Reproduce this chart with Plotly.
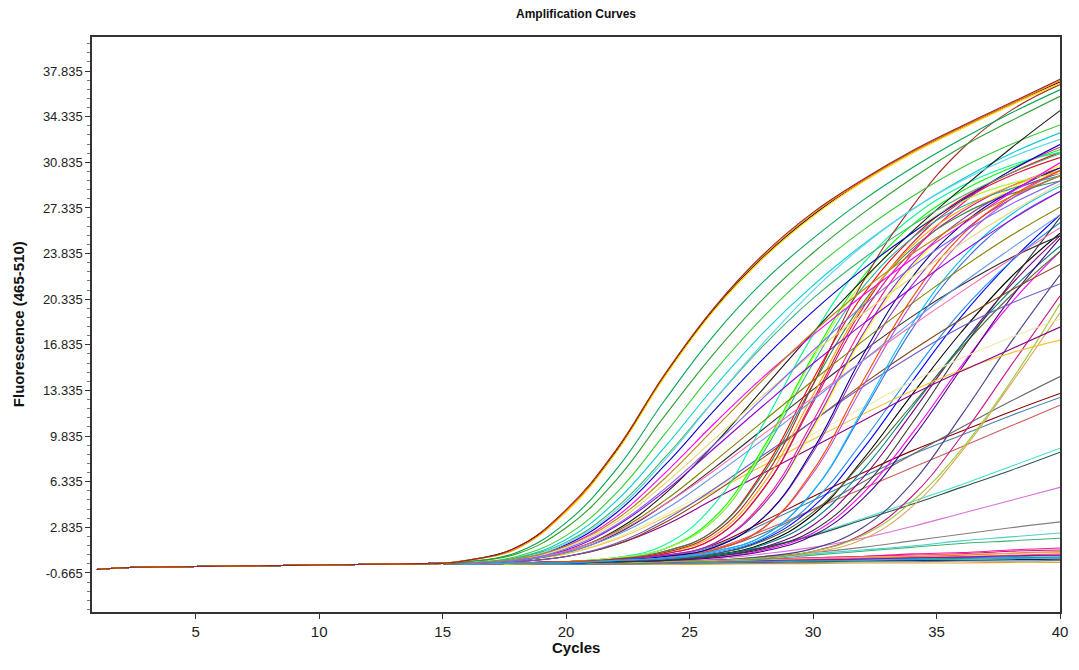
import plotly.graph_objects as go

# ---------------- data ----------------
BASE_CYCLES = list(range(1, 16))
BASELINE = [-0.40, -0.26, -0.22, -0.20, -0.17, -0.15, -0.12, -0.10, -0.08, -0.05, -0.03, 0.0, 0.02, 0.05, 0.07]
SAMPLE_CYCLES = [16, 18, 20, 22, 24, 26, 28, 30, 32, 34, 36, 38, 40]

Y_TICKS = [-0.665, 2.835, 6.335, 9.835, 13.335, 16.835, 20.335, 23.835, 27.335, 30.835, 34.335, 37.835]
X_TICKS = [5, 10, 15, 20, 25, 30, 35, 40]

# early, high plateau
EARLY = [
    [0.2, 0.9, 3.2, 7.2, 12.6, 17.6, 21.7, 25.0, 27.9, 30.4, 32.6, 34.6, 36.4],
    [0.2, 0.8, 2.8, 6.4, 11.4, 16.2, 20.4, 23.9, 26.9, 29.6, 32.0, 34.0, 35.9],
    [0.3, 1.3, 4.1, 8.6, 14.5, 19.6, 23.6, 26.8, 29.4, 31.6, 33.5, 35.3, 37.0],
    [0.3, 1.2, 4.0, 8.5, 14.4, 19.5, 23.5, 26.7, 29.3, 31.5, 33.4, 35.2, 36.9],
    [0.3, 1.2, 4.1, 8.7, 14.6, 19.7, 23.7, 26.9, 29.4, 31.6, 33.5, 35.3, 37.1],
    [0.3, 1.3, 4.2, 8.7, 14.6, 19.7, 23.8, 27.0, 29.5, 31.7, 33.6, 35.4, 37.2],
]
EARLY_COLORS = ["#00A651", "#2E9E2E", "#000000", "#FFD700", "#FF8C00", "#A0202A"]

# second tier
SECOND = [
    [0.1, 0.6, 2.2, 5.4, 10.0, 14.8, 19.0, 22.6, 25.6, 28.2, 30.4, 32.2, 33.7],
    [0.1, 0.5, 1.9, 4.8, 9.0, 13.6, 17.8, 21.4, 24.5, 27.2, 29.5, 31.5, 33.1],
    [0.1, 0.3, 1.0, 2.6, 5.4, 9.2, 13.5, 17.8, 21.8, 25.5, 28.8, 31.9, 34.8],
    [0.1, 0.4, 1.5, 3.9, 7.6, 11.8, 15.8, 19.4, 22.6, 25.4, 27.9, 30.2, 32.2],
    [0.1, 0.4, 1.4, 3.6, 7.0, 10.8, 14.4, 17.6, 20.6, 23.4, 26.0, 28.5, 30.8],
    [0.1, 0.4, 1.3, 3.2, 6.2, 9.6, 13.0, 16.2, 19.2, 22.0, 24.6, 27.0, 29.2],
    [0.1, 0.3, 1.1, 2.9, 5.6, 8.9, 12.2, 15.4, 18.4, 21.2, 23.9, 26.4, 28.6],
    [0.1, 0.3, 1.0, 2.5, 4.9, 7.9, 11.0, 14.1, 17.1, 20.0, 22.7, 25.2, 27.4],
    [0.1, 0.3, 1.0, 2.4, 4.6, 7.2, 10.0, 12.8, 15.6, 18.3, 20.9, 23.4, 25.8],
    [0.1, 0.3, 0.9, 2.2, 4.2, 6.8, 9.6, 12.6, 15.6, 18.6, 21.5, 24.2, 26.8],
    [0.1, 0.5, 1.7, 4.3, 8.2, 12.6, 16.8, 20.4, 23.4, 26.0, 28.2, 30.0, 31.5],
    [0.1, 0.4, 1.6, 4.1, 8.0, 12.6, 17.0, 21.0, 24.4, 27.2, 29.4, 31.2, 32.6],
    [0.1, 0.4, 1.4, 3.4, 6.6, 10.4, 14.2, 17.8, 21.0, 23.8, 26.2, 28.2, 29.8],
    [0.1, 0.3, 1.2, 3.0, 5.8, 9.2, 12.8, 16.4, 19.8, 22.8, 25.4, 27.6, 29.4],
]
SECOND_COLORS = ["#32CD32", "#00CED1", "#1A1A1A", "#0000CD", "#FF00FF", "#E6D870",
                 "#9400D3", "#808000", "#FF69B4", "#6495ED", "#3CB371", "#5FD3F0",
                 "#B8860B", "#7B68EE"]

# slow, nearly linear growth
LINEAR = [
    [0.1, 0.3, 0.8, 2.0, 3.8, 5.8, 7.9, 10.0, 12.0, 14.0, 15.8, 17.4, 18.8],
    [0.1, 0.3, 0.8, 1.9, 3.6, 5.6, 7.6, 9.6, 11.5, 13.3, 14.9, 16.2, 17.2],
    [0.1, 0.3, 0.9, 2.3, 4.6, 7.4, 10.4, 13.4, 16.3, 19.0, 21.4, 23.5, 25.2],
    [0.1, 0.2, 0.6, 1.5, 3.0, 5.0, 7.0, 9.0, 11.0, 13.0, 14.8, 16.5, 18.2],
    [0.1, 0.2, 0.6, 1.5, 3.2, 5.5, 8.2, 11.0, 13.8, 16.4, 18.8, 21.0, 23.0],
    [0.1, 0.2, 0.6, 1.6, 3.4, 5.8, 8.4, 11.0, 13.6, 16.0, 18.2, 20.0, 21.5],
]
LINEAR_COLORS = ["#EEE8AA", "#F4C430", "#2F2F2F", "#8B008B", "#8B4513", "#6A5ACD"]

# dense middle cluster
MIDDLE = [
    [0.0, 0.1, 0.2, 0.4, 1.0, 2.6, 7.2, 14.2, 20.6, 25.0, 28.0, 30.0, 31.6],
    [0.0, 0.1, 0.2, 0.5, 1.2, 3.6, 9.0, 16.0, 22.0, 26.0, 28.6, 30.4, 31.8],
    [0.0, 0.1, 0.2, 0.4, 0.8, 2.0, 5.8, 12.4, 19.2, 24.0, 27.0, 29.0, 30.4],
    [0.0, 0.1, 0.2, 0.4, 0.7, 1.6, 4.6, 10.4, 17.4, 22.8, 26.4, 28.8, 30.6],
    [0.0, 0.1, 0.2, 0.3, 0.6, 1.3, 3.6, 8.6, 15.6, 21.4, 25.4, 28.0, 29.8],
    [0.0, 0.1, 0.2, 0.5, 1.5, 4.6, 10.8, 17.6, 23.0, 26.6, 29.0, 30.6, 31.6],
    [0.0, 0.1, 0.2, 0.4, 0.8, 2.0, 5.8, 12.6, 19.6, 24.6, 27.8, 29.8, 31.2],
    [0.0, 0.1, 0.1, 0.3, 0.5, 1.0, 2.2, 5.6, 11.6, 18.0, 23.0, 26.4, 28.6],
    [0.0, 0.1, 0.2, 0.4, 1.0, 2.6, 7.0, 13.8, 20.0, 24.2, 26.8, 28.4, 29.4],
    [0.0, 0.1, 0.2, 0.4, 0.7, 1.6, 4.8, 11.0, 18.2, 23.8, 27.6, 30.2, 32.0],
    [0.0, 0.1, 0.2, 0.3, 0.5, 1.1, 2.8, 7.0, 13.6, 20.0, 24.8, 28.0, 30.2],
    [0.0, 0.1, 0.2, 0.5, 1.2, 3.4, 8.6, 15.4, 21.2, 25.0, 27.4, 28.8, 29.8],
    [0.0, 0.1, 0.2, 0.4, 0.9, 2.2, 6.2, 13.0, 19.8, 24.4, 27.2, 29.0, 30.2],
    [0.0, 0.1, 0.2, 0.3, 0.6, 1.3, 3.6, 8.8, 16.0, 22.0, 26.0, 28.6, 30.4],
    [0.0, 0.1, 0.2, 0.4, 0.7, 1.6, 4.6, 10.6, 17.6, 23.0, 26.4, 28.6, 30.0],
    [0.0, 0.1, 0.2, 0.5, 1.2, 3.4, 8.8, 15.8, 21.6, 25.4, 27.8, 29.2, 30.0],
    [0.0, 0.1, 0.2, 0.4, 0.9, 2.4, 6.6, 13.8, 21.6, 27.4, 31.8, 34.8, 36.8],
    [0.0, 0.1, 0.2, 0.3, 0.5, 1.1, 2.8, 7.2, 14.0, 20.4, 25.2, 28.2, 30.2],
    [0.0, 0.1, 0.1, 0.3, 0.5, 1.0, 2.2, 5.6, 11.8, 18.4, 23.4, 26.8, 29.0],
]
MIDDLE_COLORS = ["#FF0000", "#00FF00", "#C71585", "#FFFF00", "#9932CC", "#00FA9A",
                 "#DC143C", "#4169E1", "#2E8B57", "#FF1493", "#BA55D3", "#20B2AA",
                 "#FFA500", "#000080", "#8A2BE2", "#ADFF2F", "#A52A2A", "#FF4500", "#00BFFF"]

# later rising
LATE = [
    [0.0, 0.1, 0.1, 0.2, 0.4, 0.7, 1.6, 3.8, 8.0, 13.0, 17.8, 22.0, 25.4],
    [0.0, 0.1, 0.1, 0.2, 0.4, 0.8, 1.9, 4.4, 8.8, 14.0, 19.0, 23.2, 26.8],
    [0.0, 0.1, 0.1, 0.2, 0.3, 0.6, 1.3, 3.0, 6.6, 11.6, 16.8, 21.4, 25.2],
    [0.0, 0.1, 0.1, 0.2, 0.4, 0.7, 1.5, 3.4, 7.2, 12.0, 16.8, 21.0, 24.4],
    [0.0, 0.1, 0.1, 0.2, 0.3, 0.5, 1.1, 2.4, 5.4, 10.0, 15.2, 20.0, 24.0],
    [0.0, 0.1, 0.1, 0.2, 0.4, 0.8, 1.8, 4.0, 7.8, 12.2, 16.6, 20.6, 24.0],
    [0.0, 0.1, 0.1, 0.2, 0.3, 0.5, 1.0, 2.2, 5.0, 9.6, 15.0, 20.4, 25.0],
    [0.0, 0.1, 0.1, 0.2, 0.4, 0.9, 2.0, 4.8, 9.4, 14.6, 19.4, 23.2, 26.2],
    [0.0, 0.1, 0.1, 0.2, 0.3, 0.6, 1.2, 2.6, 5.8, 10.8, 16.4, 21.6, 26.6],
]
LATE_COLORS = ["#000000", "#0000FF", "#800080", "#008080", "#FF00FF", "#556B2F",
               "#4B0082", "#1E90FF", "#333333"]

# latest rising
LATEST = [
    [0.0, 0.0, 0.1, 0.1, 0.2, 0.3, 0.5, 0.9, 1.9, 4.4, 8.6, 13.8, 19.3],
    [0.0, 0.0, 0.1, 0.1, 0.2, 0.3, 0.5, 1.0, 2.3, 5.2, 9.8, 15.2, 20.6],
    [0.0, 0.0, 0.1, 0.1, 0.2, 0.3, 0.6, 1.2, 2.8, 6.2, 11.4, 17.0, 22.2],
    [0.0, 0.0, 0.1, 0.1, 0.2, 0.3, 0.5, 1.0, 2.2, 4.8, 8.8, 14.0, 20.0],
]
LATEST_COLORS = ["#E0A060", "#C71585", "#483D8B", "#9ACD32"]

# weak, slow growth
WEAK = [
    [0.0, 0.1, 0.2, 0.3, 0.6, 1.5, 3.3, 5.2, 7.0, 8.7, 10.2, 11.7, 13.1],
    [0.0, 0.1, 0.2, 0.3, 0.6, 1.4, 3.1, 4.9, 6.7, 8.4, 9.9, 11.4, 12.8],
    [0.0, 0.1, 0.2, 0.3, 0.5, 1.1, 2.4, 4.2, 6.3, 8.4, 10.5, 12.5, 14.4],
    [0.0, 0.1, 0.2, 0.3, 0.5, 1.2, 2.6, 4.2, 5.8, 7.4, 9.0, 10.6, 12.2],
    [0.0, 0.1, 0.1, 0.2, 0.4, 0.7, 1.3, 2.3, 3.5, 4.8, 6.1, 7.5, 8.9],
    [0.0, 0.1, 0.1, 0.2, 0.4, 0.7, 1.3, 2.2, 3.4, 4.6, 5.9, 7.2, 8.6],
    [0.0, 0.0, 0.1, 0.1, 0.2, 0.4, 0.8, 1.3, 2.0, 2.9, 3.9, 4.9, 5.9],
    [0.0, 0.0, 0.1, 0.1, 0.2, 0.3, 0.6, 0.9, 1.3, 1.8, 2.3, 2.8, 3.25],
    [0.0, 0.0, 0.1, 0.1, 0.2, 0.3, 0.5, 0.8, 1.1, 1.4, 1.8, 2.1, 2.4],
    [0.0, 0.0, 0.1, 0.1, 0.2, 0.3, 0.4, 0.7, 1.0, 1.3, 1.6, 1.8, 2.0],
]
WEAK_COLORS = ["#8B0000", "#4682B4", "#696969", "#CD5C5C", "#40E0D0",
               "#2F4F4F", "#DA70D6", "#808080", "#48D1CC", "#3CB371"]

# negatives, nearly flat
FLAT = [
    [0.0, 0.0, 0.1, 0.1, 0.2, 0.3, 0.4, 0.5, 0.6, 0.8, 0.9, 1.1, 1.25],
    [0.0, 0.0, 0.1, 0.1, 0.2, 0.3, 0.4, 0.5, 0.6, 0.7, 0.8, 1.0, 1.1],
    [0.0, 0.0, 0.1, 0.1, 0.2, 0.2, 0.3, 0.4, 0.5, 0.6, 0.7, 0.85, 0.95],
    [0.0, 0.0, 0.1, 0.1, 0.1, 0.2, 0.3, 0.35, 0.45, 0.55, 0.6, 0.7, 0.8],
    [0.0, 0.0, 0.0, 0.1, 0.1, 0.2, 0.25, 0.3, 0.4, 0.45, 0.5, 0.6, 0.65],
    [0.0, 0.0, 0.0, 0.1, 0.1, 0.15, 0.2, 0.25, 0.3, 0.35, 0.45, 0.5, 0.55],
    [0.0, 0.0, 0.0, 0.0, 0.1, 0.1, 0.15, 0.2, 0.25, 0.3, 0.3, 0.35, 0.4],
    [0.0, 0.0, 0.0, 0.0, 0.0, 0.0, 0.05, 0.05, 0.1, 0.1, 0.1, 0.15, 0.15],
    [0.0, 0.0, 0.0, 0.1, 0.1, 0.2, 0.3, 0.35, 0.4, 0.5, 0.55, 0.65, 0.7],
    [0.0, 0.0, 0.0, 0.1, 0.1, 0.15, 0.2, 0.25, 0.3, 0.35, 0.4, 0.45, 0.5],
    [0.0, 0.0, 0.0, 0.0, 0.05, 0.1, 0.1, 0.15, 0.2, 0.2, 0.25, 0.25, 0.3],
    [0.0, 0.0, 0.1, 0.1, 0.2, 0.25, 0.35, 0.45, 0.55, 0.65, 0.75, 0.85, 0.9],
]
FLAT_COLORS = ["#FF1493", "#C71585", "#D2691E", "#FF8C00", "#1E90FF", "#008B8B",
               "#191970", "#DAA520", "#9400D3", "#20B2AA", "#708090", "#FFA07A"]

# ---------------- figure ----------------
fig = go.Figure()
groups = [
    (FLAT, FLAT_COLORS), (WEAK, WEAK_COLORS), (LATEST, LATEST_COLORS),
    (LATE, LATE_COLORS), (LINEAR, LINEAR_COLORS), (MIDDLE, MIDDLE_COLORS),
    (SECOND, SECOND_COLORS), (EARLY, EARLY_COLORS),
]
x_all = BASE_CYCLES + SAMPLE_CYCLES
for curves, colors in groups:
    for vals, col in zip(curves, colors):
        fig.add_trace(go.Scatter(
            x=x_all, y=BASELINE + vals, mode="lines",
            line=dict(color=col, width=1.1, shape="spline", smoothing=1.2),
            hoverinfo="skip", showlegend=False))

narrow = "Liberation Sans Narrow, Arial Narrow, Liberation Sans, Arial, sans-serif"
regular = "Liberation Sans, Arial, sans-serif"

fig.update_layout(
    width=1079, height=670,
    margin=dict(l=92, r=11, t=37, b=58),
    paper_bgcolor="white", plot_bgcolor="white",
    xaxis=dict(range=[0.8, 40], tickmode="array", tickvals=X_TICKS,
               ticktext=[str(v) for v in X_TICKS],
               ticks="outside", ticklen=5, tickcolor="#333",
               showgrid=False, zeroline=False,
               showline=True, linecolor="#333", linewidth=1.5, mirror=True,
               tickfont=dict(family=narrow, size=15, color="#222")),
    yaxis=dict(range=[-3.66, 40.45], tickmode="array", tickvals=Y_TICKS,
               ticktext=[f"{v:.3f}" for v in Y_TICKS],
               ticks="outside", ticklen=5, tickcolor="#333",
               minor=dict(tickmode="linear", tick0=-0.665, dtick=0.7,
                          ticks="outside", ticklen=3, tickcolor="#777"),
               showgrid=False, zeroline=False,
               showline=True, linecolor="#333", linewidth=1.5, mirror=True,
               tickfont=dict(family=regular, size=13, color="#222")),
    annotations=[
        dict(text="<b>Amplification Curves</b>", xref="paper", yref="paper",
             x=0.5, y=1 + 23 / 575, showarrow=False, xanchor="center", yanchor="middle",
             font=dict(family=narrow, size=12, color="#111")),
        dict(text="<b>Fluorescence (465-510)</b>", xref="paper", yref="paper",
             x=-0.0758, y=0.5, textangle=-90, showarrow=False,
             xanchor="center", yanchor="middle",
             font=dict(family=regular, size=15, color="#111")),
        dict(text="<b>Cycles</b>", xref="paper", yref="paper",
             x=0.5, y=-0.0626, showarrow=False, xanchor="center", yanchor="middle",
             font=dict(family=narrow, size=15, color="#111")),
    ],
)

fig.write_html("out.html", config={"displayModeBar": False},
               post_script="document.body.style.margin='0px';")
